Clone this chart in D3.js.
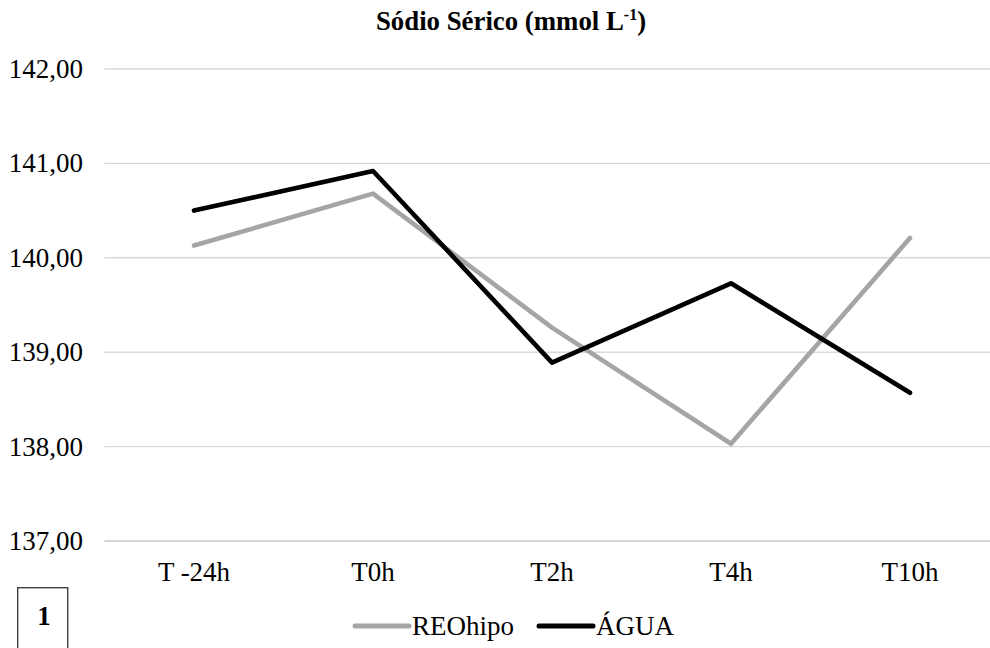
<!DOCTYPE html>
<html>
<head>
<meta charset="utf-8">
<script src="https://cdn.jsdelivr.net/npm/d3@7"></script>
<style>
  body { margin: 0; background: #fff; }
  svg { display: block; font-family: "Liberation Serif", "Times New Roman", serif; }
</style>
</head>
<body>
<svg width="990" height="648"></svg>
<script>
var categories = ["T -24h", "T0h", "T2h", "T4h", "T10h"];
var reoHipo = [140.13, 140.68, 139.26, 138.03, 140.21];
var agua = [140.50, 140.92, 138.89, 139.73, 138.57];
var yTicks = [137, 138, 139, 140, 141, 142];

var svg = d3.select("svg");
var plotLeft = 104.5, plotRight = 999.5, plotTop = 69, plotBottom = 541;

var x = d3.scalePoint().domain(categories).range([plotLeft, plotRight]).padding(0.5);
var y = d3.scaleLinear().domain([137, 142]).range([plotBottom, plotTop]);
var fmt = function (d) { return d3.format(".2f")(d).replace(".", ","); };

// gridlines
svg.append("g").selectAll("line")
    .data(yTicks)
    .enter().append("line")
    .attr("x1", plotLeft).attr("x2", 990)
    .attr("y1", function (d) { return y(d); })
    .attr("y2", function (d) { return y(d); })
    .attr("stroke", function (d) { return d === 137 ? "#c8c8c8" : "#d9d9d9"; })
    .attr("stroke-width", 1.4);

// y labels
svg.append("g").selectAll("text")
    .data(yTicks)
    .enter().append("text")
    .attr("x", 83)
    .attr("y", function (d) { return y(d) + 9; })
    .attr("text-anchor", "end")
    .attr("font-size", 27)
    .attr("fill", "#000")
    .text(fmt);

// x labels
svg.append("g").selectAll("text")
    .data(categories)
    .enter().append("text")
    .attr("x", function (d) { return x(d); })
    .attr("y", 581)
    .attr("text-anchor", "middle")
    .attr("font-size", 27)
    .attr("fill", "#000")
    .text(function (d) { return d; });

var line = d3.line()
    .x(function (d, i) { return x(categories[i]); })
    .y(function (d) { return y(d); });

var series = [
  { name: "REOhipo", values: reoHipo, color: "#a5a5a5" },
  { name: "ÁGUA", values: agua, color: "#000000" }
];

series.forEach(function (s) {
  svg.append("path")
      .datum(s.values)
      .attr("d", line)
      .attr("fill", "none")
      .attr("stroke", s.color)
      .attr("stroke-width", 4.6)
      .attr("stroke-linecap", "round")
      .attr("stroke-linejoin", "round");
});

// title
var title = svg.append("text")
    .attr("x", 511)
    .attr("y", 30)
    .attr("text-anchor", "middle")
    .attr("font-size", 26.8)
    .attr("font-weight", "bold")
    .attr("fill", "#000");
title.append("tspan").text("Sódio Sérico (mmol L");
title.append("tspan").attr("font-size", 16).attr("dy", -10).text("-1");
title.append("tspan").attr("dy", 10).text(")");

// legend
var legendX = [355, 539];
series.forEach(function (s, i) {
  var g = svg.append("g").attr("transform", "translate(" + legendX[i] + ",626)");
  g.append("line")
      .attr("x1", 0).attr("x2", 54)
      .attr("stroke", s.color)
      .attr("stroke-width", 5)
      .attr("stroke-linecap", "round");
  g.append("text")
      .attr("x", 57)
      .attr("y", 9)
      .attr("font-size", 27)
      .attr("fill", "#000")
      .text(s.name);
});

// panel label box
svg.append("rect")
    .attr("x", 17.7).attr("y", 587.7)
    .attr("width", 50).attr("height", 70)
    .attr("fill", "none")
    .attr("stroke", "#404040")
    .attr("stroke-width", 1.4);
svg.append("text")
    .attr("x", 44)
    .attr("y", 625)
    .attr("text-anchor", "middle")
    .attr("font-size", 27)
    .attr("font-weight", "bold")
    .text("1");
</script>
</body>
</html>
